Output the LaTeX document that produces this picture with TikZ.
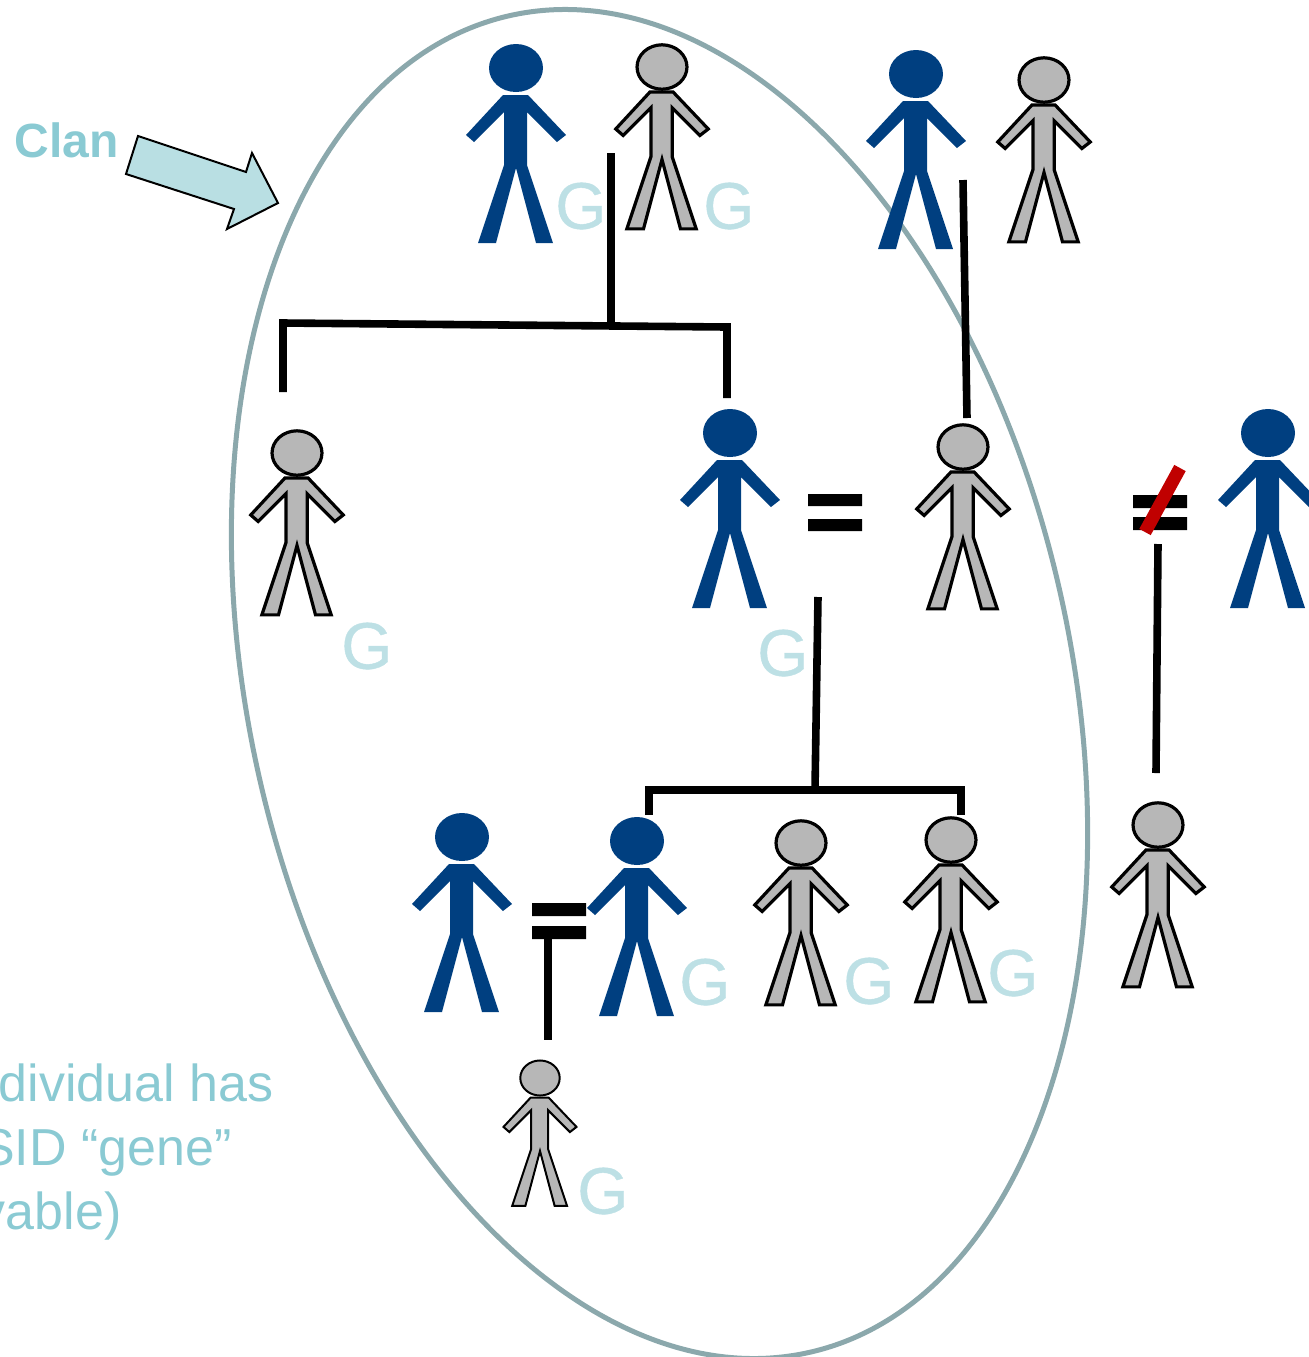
\documentclass[tikz,border=0pt]{standalone}
\usepackage{fontspec}
\setmainfont{Liberation Sans}
\newfontfamily\gfont[FakeBold=0.6]{Liberation Sans}
\definecolor{navy}{HTML}{003F80}
\definecolor{bodygray}{HTML}{B7B7B7}
\definecolor{ringc}{HTML}{8BA8AC}
\definecolor{tealtext}{HTML}{8ACAD3}
\definecolor{gletterc}{HTML}{BDE0E5}
\definecolor{arrowfill}{HTML}{B9DFE3}
\definecolor{slashred}{HTML}{C00000}
\tikzset{
  x=0.5pt,y=-0.5pt,
  personshape/.pic={
    \path[pic actions] (0,0) ellipse [x radius=27,y radius=24];
    \path[pic actions,miter limit=4] (-13,27) -- (12,27) -- (50,67) -- (41,74) -- (11,44) -- (11,97)
      -- (37,175) -- (20,175) -- (0,100) -- (-20,175) -- (-38,175) -- (-12,97) -- (-12,44)
      -- (-42,74) -- (-50,67) -- cycle;
  },
  blueperson/.style={fill=navy,draw=none},
  grayperson/.style={fill=bodygray,draw=black,line width=1.6pt,scale=0.925},
  smallperson/.style={fill=bodygray,draw=black,line width=1pt,scale=0.73},
  link/.style={draw=black,line width=3.8pt},
  eqbar/.style={fill=black,draw=none},
  gletter/.style={text=gletterc,font=\gfont\fontsize{33}{33}\selectfont,inner sep=0pt},
  note/.style={text=tealtext,font=\fontsize{26}{30}\selectfont,inner sep=0pt,anchor=base east},
}
\begin{document}
\begin{tikzpicture}
\useasboundingbox (0,0) rectangle (1309,1357);
\begin{scope}
\clip (0,0) rectangle (1309,1357);
\draw[ringc,line width=2.5pt,shift={(659.5,684)},rotate=12.6] (0,0) ellipse [x radius=411,y radius=685];
\end{scope}

% G marks
\node[gletter] (g1) at (581,206) {G};
\node[gletter] (g2) at (729,206) {G};
\node[gletter] (g3) at (367,646) {G};
\node[gletter] (g4) at (783,653) {G};
\node[gletter] (g5) at (705,982) {G};
\node[gletter] (g6) at (869,981) {G};
\node[gletter] (g7) at (1013,973) {G};
\node[gletter] (g8) at (603,1191) {G};

% people
\pic[blueperson] (p1) at (516,68) {personshape};
\pic[grayperson] (p2) at (662,67) {personshape};
\pic[blueperson] (p3) at (916,74) {personshape};
\pic[grayperson] (p4) at (1044,80) {personshape};
\pic[grayperson] (p5) at (297,453) {personshape};
\pic[blueperson] (p6) at (730,433) {personshape};
\pic[grayperson] (p7) at (963,447) {personshape};
\pic[blueperson] (p8) at (1268,433) {personshape};
\pic[blueperson] (p9) at (462,837) {personshape};
\pic[blueperson] (p10) at (637,841) {personshape};
\pic[grayperson] (p11) at (801,843) {personshape};
\pic[grayperson] (p12) at (951,840) {personshape};
\pic[grayperson] (p13) at (1158,825) {personshape};
\pic[smallperson] (p14) at (540,1078) {personshape};

% connector ends
\coordinate (a0) at (611,153);
\coordinate (a1) at (611,325);
\coordinate (a2) at (283,392);
\coordinate (a3) at (283,323);
\coordinate (a4) at (727,327);
\coordinate (a5) at (727,398);
\coordinate (b0) at (963,180);
\coordinate (b1) at (967,418);
\coordinate (c0) at (818,597);
\coordinate (c1) at (815,790);
\coordinate (c2) at (649,815);
\coordinate (c3) at (649,790);
\coordinate (c4) at (961,790);
\coordinate (c5) at (961,815);
\coordinate (d0) at (1158,544);
\coordinate (d1) at (1156,773);
\coordinate (e0) at (548,935);
\coordinate (e1) at (548,1040);

\draw[link] (a0) -- (a1);
\draw[link,line join=miter] (a2) -- (a3) -- (a4) -- (a5);
\draw[link] (b0) -- (b1);
\draw[link] (c0) -- (c1);
\draw[link,line join=miter] (c2) -- (c3) -- (c4) -- (c5);
\draw[link] (d0) -- (d1);
\draw[link] (e0) -- (e1);

% equals signs
\fill[eqbar] (808,494) rectangle (862,506) (808,519) rectangle (862,531);
\fill[eqbar] (532,903) rectangle (586,916) (532,926) rectangle (586,939);
\fill[eqbar] (1133,495) rectangle (1187,508) (1133,517) rectangle (1187,530);
\coordinate (s0) at (1180,468);
\coordinate (s1) at (1145,532);
\draw[slashred,line width=6.5pt] (s0) -- (s1);

% clan arrow
\draw[fill=arrowfill,draw=black,line width=1pt,line join=miter]
  (138,136) -- (246,172) -- (252,153) -- (278,203) -- (227,229) -- (234,209) -- (126,174) -- cycle;

\node[text=tealtext,font=\bfseries\fontsize{24}{28}\selectfont,inner sep=0pt,anchor=base west] (clan) at (14,157) {Clan};
\node[note] (n1) at (274,1101) {dividual has};
\node[note] (n2) at (232,1165) {SID “gene”};
\node[note] (n3) at (122,1229) {vable)};
\end{tikzpicture}
\end{document}
